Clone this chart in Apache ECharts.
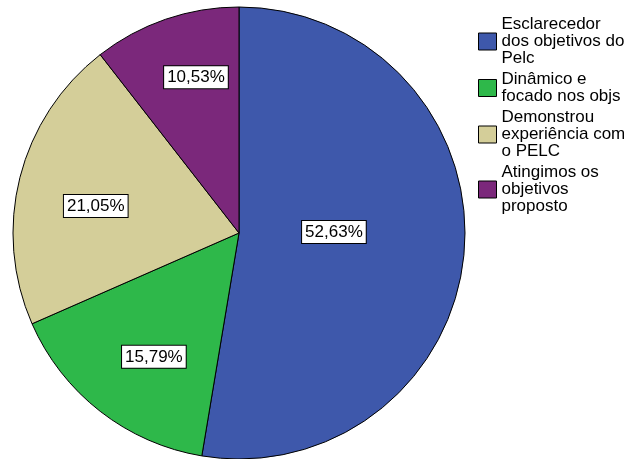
<!DOCTYPE html>
<html>
<head>
<meta charset="utf-8">
<script src="https://cdn.jsdelivr.net/npm/echarts@6/dist/echarts.min.js"></script>
<style>
html,body{margin:0;padding:0;background:#fff;}
#c{width:624px;height:459px;}
</style>
</head>
<body>
<div id="c"></div>
<script>
const categories = [
  "Esclarecedor\ndos objetivos do\nPelc",
  "Dinâmico e\nfocado nos objs",
  "Demonstrou\nexperiência com\no PELC",
  "Atingimos os\nobjetivos\nproposto"
];
const counts = [10, 3, 4, 2];
const percentLabels = ["52,63%", "15,79%", "21,05%", "10,53%"];
const colors = ["#3e58ab", "#2eb84a", "#d4ce99", "#7b287b"];

const CX = 239, CY = 233, R = 226;
const labelRadiusFrac = [0.42, 0.665, 0.645, 0.715];
const labelAngleShift = [5.3, 3.4, 3.5, -3.5];
const total = counts.reduce((a, b) => a + b, 0);

const chart = echarts.init(document.getElementById('c'), null, {renderer: 'canvas'});
chart.setOption({
  animation: false,
  backgroundColor: '#ffffff',
  legend: {
    orient: 'vertical',
    left: 473,
    top: 11,
    itemWidth: 18,
    itemHeight: 17,
    itemGap: 4,
    icon: 'rect',
    selectedMode: false,
    textStyle: {
      fontFamily: 'Liberation Sans',
      fontSize: 17,
      lineHeight: 17,
      color: '#000'
    },
    itemStyle: {borderColor: '#000', borderWidth: 1}
  },
  series: [{
    type: 'pie',
    center: [CX, CY],
    radius: [0, R],
    startAngle: 90,
    clockwise: true,
    silent: true,
    emphasis: {disabled: true},
    itemStyle: {borderColor: '#000', borderWidth: 1},
    label: {
      show: true,
      position: 'inside',
      formatter: p => percentLabels[p.dataIndex],
      fontFamily: 'Liberation Sans',
      fontSize: 17,
      color: '#000',
      backgroundColor: '#fff',
      borderColor: '#000',
      borderWidth: 1,
      padding: [3, 3, 2, 3]
    },
    labelLayout: function (p) {
      const i = p.dataIndex;
      let start = 0;
      for (let j = 0; j < i; j++) start += counts[j];
      const midDeg = 90 - (start + counts[i] / 2) / total * 360 + labelAngleShift[i];
      const a = midDeg * Math.PI / 180;
      const r = R * labelRadiusFrac[i];
      return {
        x: CX + r * Math.cos(a),
        y: CY - r * Math.sin(a),
        align: 'center',
        verticalAlign: 'middle'
      };
    },
    data: categories.map((name, i) => ({
      name: name,
      value: counts[i],
      itemStyle: {color: colors[i]}
    }))
  }]
});
</script>
</body>
</html>
